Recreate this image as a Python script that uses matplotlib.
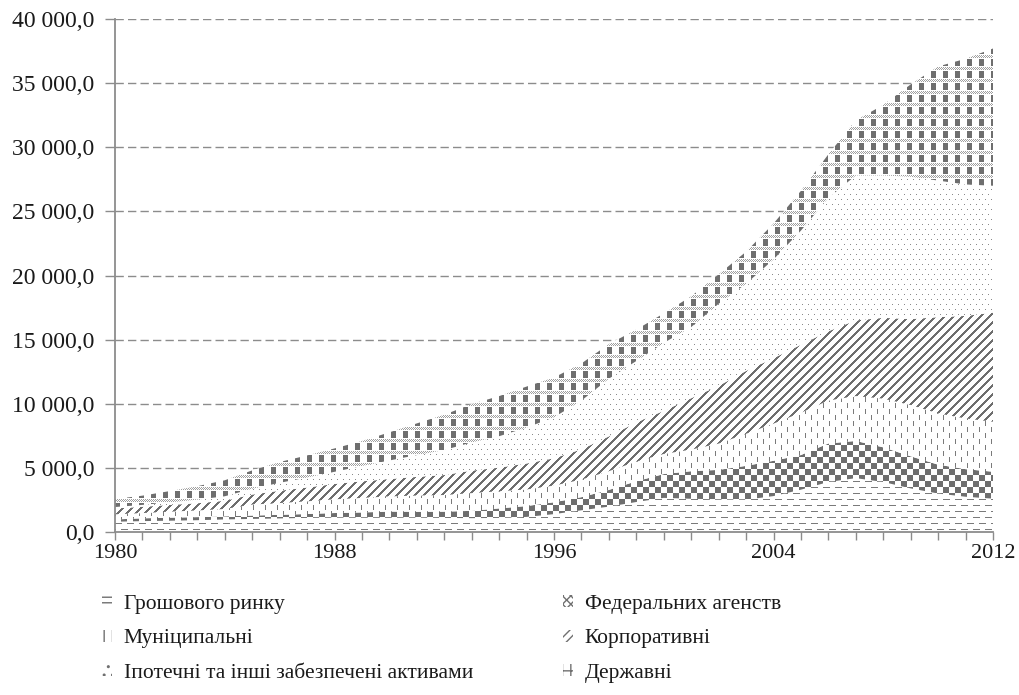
import numpy as np
import matplotlib
matplotlib.use("Agg")
import matplotlib.pyplot as plt
from matplotlib.colors import to_rgb
from matplotlib.patches import Patch
from matplotlib.ticker import FuncFormatter

# ---------------- data (billions USD) ----------------
years = list(range(1980, 2013))
money_market = [800, 850, 880, 920, 980, 1020, 1060, 1100, 1130, 1150, 1156, 1130, 1100,
                1080, 1100, 1177, 1394, 1693, 1978, 2339, 2662, 2590, 2550, 2520, 2800,
                3300, 3900, 4200, 3900, 3400, 3000, 2750, 2600]
federal_agencies = [178, 216, 237, 240, 243, 261, 277, 303, 349, 373, 435, 443, 484, 570,
                    738, 845, 925, 1022, 1300, 1617, 1854, 2149, 2293, 2636, 2750, 2700,
                    3000, 2900, 2700, 2500, 2250, 2150, 2100]
municipal = [400, 410, 470, 520, 570, 860, 920, 990, 1070, 1135, 1185, 1270, 1300, 1380,
             1340, 1295, 1300, 1370, 1465, 1530, 1570, 1690, 2050, 2500, 2900, 3300, 3350,
             3500, 3800, 4000, 4000, 3950, 3900]
corporate = [459, 488, 523, 562, 642, 776, 959, 1074, 1195, 1292, 1350, 1454, 1557, 1755,
             1841, 2023, 2127, 2359, 2708, 3047, 3358, 4000, 4500, 4900, 5100, 5300, 5400,
             5900, 6300, 6700, 7500, 8000, 8500]
mortgage = [111, 150, 200, 280, 350, 450, 620, 780, 950, 1200, 1450, 1700, 1950, 2200, 2450,
            2800, 3200, 3800, 4500, 4800, 5300, 5550, 6400, 6800, 7700, 8900, 10400, 11300,
            11100, 11100, 10650, 10250, 9900]
treasury = [623, 720, 881, 1050, 1247, 1437, 1619, 1724, 1821, 1945, 2195, 2471, 2754, 2990,
            3126, 3200, 3100, 2900, 2700, 2450, 2300, 2400, 2300, 2500, 2800, 3100, 3400,
            4300, 5500, 7200, 8900, 9800, 10700]

labels = ["Грошового ринку", "Федеральних агенств", "Муніципальні",
          "Корпоративні", "Іпотечні та інші забезпечені активами", "Державні"]
x_label_years = [1980, 1988, 1996, 2004, 2012]
y_ticks = list(range(0, 40001, 5000))

# ---------------- style ----------------
plt.rcParams["font.family"] = ["Liberation Serif", "DejaVu Serif"]
FS_Y = 17
FS_X = 16
FS_L = 15.5
GRAY = "#8c8c8c"

FW, FH = 1019, 695
L, R, B, T = 115, 993, 532, 19
fig = plt.figure(figsize=(FW / 100, FH / 100), dpi=100)
ax = fig.add_axes([L / FW, 1 - B / FH, (R - L) / FW, (B - T) / FH])

series = [money_market, federal_agencies, municipal, corporate, mortgage, treasury]
polys = ax.stackplot(years, *series, colors=["white"] * 6, edgecolor="none",
                     linewidth=0, zorder=1)

# ---------------- pixel textures (Excel-like pattern fills) ----------------
W, H = R - L, B - T
Xg, Yg = np.meshgrid(np.arange(W), np.arange(H))


def texture(layers):
    img = np.ones((H, W, 3))
    for mask, col in layers:
        img[mask] = to_rgb(col)
    return img


pat_mm = (((Yg % 12 == 0) & (Xg % 12 < 7)) |
          ((Yg % 12 == 6) & ((Xg + 6) % 12 < 7)))
pat_ag = ((Xg // 6 + Yg // 6) % 2 == 0)
pat_mu = (((Xg % 12 == 0) & (Yg % 12 < 5)) |
          ((Xg % 12 == 6) & ((Yg + 6) % 12 < 5)))
pat_co = ((Xg + Yg) % 9 < 3)
pat_mo = (((Xg % 6 == 0) & (Yg % 10 == 0)) |
          ((Xg % 6 == 3) & (Yg % 10 == 5)))
tr_band = (Yg % 12 < 3) & ((Xg + Yg) % 2 == 0)
tr_sq = ((Yg % 12 >= 4) & (Yg % 12 <= 10) & (Xg % 12 < 5))

textures = [
    texture([(pat_mm, "#7a7a7a")]),
    texture([(pat_ag, "#6e6e6e")]),
    texture([(pat_mu, "#7a7a7a")]),
    texture([(pat_co, "#6e6e6e")]),
    texture([(pat_mo, "#8a8a8a")]),
    texture([(tr_band, "#a0a0a0"), (tr_sq, "#6e6e6e")]),
]

for poly, img in zip(polys, textures):
    im = ax.imshow(img, extent=(1980, 2012, 0, 40000), origin="upper",
                   aspect="auto", interpolation="nearest", zorder=2)
    im.set_clip_path(poly.get_paths()[0], poly.get_transform())

# ---------------- axes ----------------
ax.set_xlim(1980, 2012)
ax.set_ylim(0, 40000)
ax.set_axisbelow(True)
ax.set_yticks(y_ticks)
ax.yaxis.set_major_formatter(FuncFormatter(
    lambda v, p: f"{v:,.1f}".replace(",", " ").replace(".", ",")))
ax.set_xticks(years)
ax.set_xticklabels([str(y) if y in x_label_years else "" for y in years])
ax.yaxis.grid(True, linestyle=(0, (6, 3)), color=GRAY, linewidth=1.0, zorder=0)
for s in ["top", "right"]:
    ax.spines[s].set_visible(False)
for s in ["left", "bottom"]:
    ax.spines[s].set_color(GRAY)
    ax.spines[s].set_linewidth(1.3)
    ax.spines[s].set_zorder(3)
ax.tick_params(direction="out", length=7, width=1.0, color=GRAY,
               labelcolor="#1a1a1a")
ax.tick_params(axis="x", pad=3, labelsize=FS_X, length=6)
ax.tick_params(axis="y", pad=8, labelsize=FS_Y)

# ---------------- legend ----------------
hatches = ["---", "xxxx", "||", "////", "..", "++"]
handles = [Patch(facecolor="white", edgecolor="#707070", linewidth=0, hatch=h)
           for h in hatches]
order = [0, 2, 4, 1, 3, 5]
leg = fig.legend([handles[i] for i in order], [labels[i] for i in order],
                 loc="upper left", bbox_to_anchor=(102 / FW, 1 - 595 / FH),
                 ncol=2, frameon=False, fontsize=FS_L, handlelength=0.45,
                 handleheight=0.5, handletextpad=0.55, labelspacing=0.72,
                 columnspacing=4.2, borderpad=0, borderaxespad=0)
for t in leg.get_texts():
    t.set_color("#1a1a1a")

fig.savefig("out.png", dpi=100, facecolor="white")
